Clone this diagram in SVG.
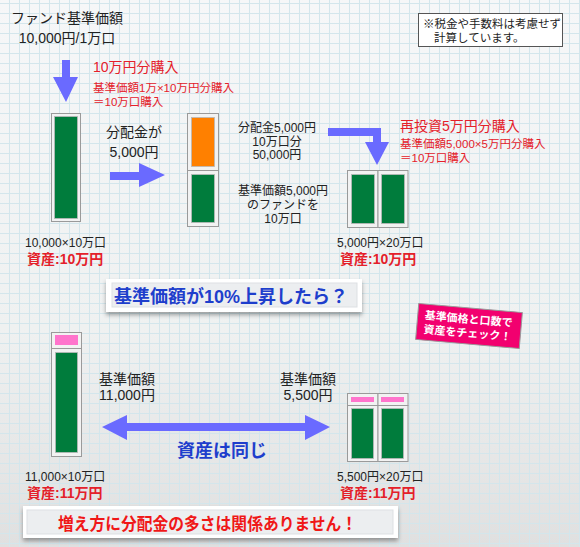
<svg xmlns="http://www.w3.org/2000/svg" width="580" height="547" viewBox="0 0 580 547">
<defs>
  <linearGradient id="bg" x1="0" y1="0" x2="0" y2="1">
    <stop offset="0" stop-color="#f6f7f8"/>
    <stop offset="0.6" stop-color="#eff1f1"/>
    <stop offset="1" stop-color="#e0e0e0"/>
  </linearGradient>
  <pattern id="grid" width="10" height="10" patternUnits="userSpaceOnUse" x="9" y="3">
    <path d="M0 0.5H10M0.5 0V10" stroke="#d3e6ec" stroke-width="1" fill="none"/>
  </pattern>
  <filter id="sh" x="-10%" y="-30%" width="120%" height="170%">
    <feDropShadow dx="0" dy="3" stdDeviation="2" flood-color="#000" flood-opacity="0.35"/>
  </filter>
  <style>
    text{font-family:"Liberation Sans","Noto Sans CJK JP",sans-serif;fill:#222}
    .t14{font-size:14px}
    .t12{font-size:12px}
    .t11{font-size:11.5px}
    .red{fill:#e4202a}
    .rb{fill:#e4202a;font-weight:bold;font-size:14px}
    .c{text-anchor:middle}
    .frame{fill:#f2f2f2;stroke:#9a9a9a;stroke-width:1}
    .g{fill:#007c3c;stroke:#b8b8b8;stroke-width:0.8}
    .o{fill:#ff8000;stroke:#b8b8b8;stroke-width:0.8}
    .p{fill:#ff74cc}
    .arrow{fill:#6a6aff}
    .bluebold{fill:#1e3ecc;font-weight:bold;font-size:18px}
  </style>
</defs>
<rect width="580" height="547" fill="url(#bg)"/>
<rect width="580" height="547" fill="url(#grid)"/>

<g id="title">
  <text class="t14" x="67" y="23" text-anchor="middle">ファンド基準価額</text>
  <text class="t14" x="67" y="43" text-anchor="middle">10,000円/1万口</text>
</g>

<g id="note">
  <rect x="418.5" y="13.5" width="144" height="33" fill="#fff" stroke="#555"/>
  <text class="t11" x="423" y="28">※税金や手数料は考慮せず</text>
  <text class="t11" x="434" y="42">計算しています。</text>
</g>

<g id="buy1">
  <text class="t14 red" x="93" y="72">10万円分購入</text>
  <text class="t11 red" x="93" y="92">基準価額1万×10万円分購入</text>
  <text class="t11 red" x="93" y="106">＝10万口購入</text>
</g>

<g id="bar1">
  <rect class="frame" x="51.5" y="113.5" width="29" height="108"/>
  <rect class="g" x="54.5" y="116.5" width="23" height="102"/>
  <text class="t12" x="25" y="247">10,000×10万口</text>
  <text class="rb" x="27" y="264">資産:10万円</text>
</g>

<g id="dividend-label">
  <text class="t14 c" x="134" y="137">分配金が</text>
  <text class="t14 c" x="134" y="157">5,000円</text>
</g>

<g id="bar2">
  <rect class="frame" x="187.5" y="113.5" width="31" height="57"/>
  <rect class="frame" x="187.5" y="170.5" width="31" height="56"/>
  <rect class="o" x="191.5" y="117.5" width="23" height="49"/>
  <rect class="g" x="191.5" y="174.5" width="23" height="48"/>
</g>

<g id="bar2-labels">
  <text class="t12 c" x="277" y="132">分配金5,000円</text>
  <text class="t12 c" x="277" y="146">10万口分</text>
  <text class="t12 c" x="277" y="159">50,000円</text>
  <text class="t12 c" x="283" y="195">基準価額5,000円</text>
  <text class="t12 c" x="283" y="209">のファンドを</text>
  <text class="t12 c" x="283" y="223">10万口</text>
</g>

<g id="reinvest">
  <text class="t14 red" x="400" y="131">再投資5万円分購入</text>
  <text class="t11 red" x="400" y="148">基準価額5,000×5万円分購入</text>
  <text class="t11 red" x="400" y="162">＝10万口購入</text>
</g>

<g id="bar3">
  <rect class="frame" x="347.5" y="170.5" width="30.5" height="57"/>
  <rect class="frame" x="378" y="170.5" width="30" height="57"/>
  <rect class="g" x="351.5" y="174.5" width="23" height="49"/>
  <rect class="g" x="381.5" y="174.5" width="23" height="49"/>
  <text class="t12" x="337" y="247">5,000円×20万口</text>
  <text class="rb" x="340" y="264">資産:10万円</text>
</g>

<g id="banner1">
  <rect x="106" y="279" width="256" height="33" fill="#fff" filter="url(#sh)"/>
  <rect x="112" y="283" width="245" height="24" fill="#eceef0" stroke="#dde0e3"/>
  <text class="bluebold" x="114" y="303" textLength="234" lengthAdjust="spacingAndGlyphs">基準価額が10%上昇したら？</text>
</g>

<g id="badge" transform="translate(469 326) rotate(5)">
  <rect x="-52" y="-18" width="104" height="36" fill="#f2006f" stroke="#999" stroke-width="1"/>
  <text x="-45" y="-3" style="fill:#fff;font-weight:bold;font-size:11px">基準価格と口数で</text>
  <text x="-45" y="11" style="fill:#fff;font-weight:bold;font-size:11px">資産をチェック！</text>
</g>

<g id="bar4">
  <rect class="frame" x="51.5" y="332.5" width="30" height="16"/>
  <rect class="frame" x="51.5" y="348.5" width="30" height="108"/>
  <rect class="p" x="55" y="335" width="23" height="10"/>
  <rect class="g" x="55.5" y="352.5" width="22" height="100"/>
  <text class="t12" x="25" y="481">11,000×10万口</text>
  <text class="rb" x="27" y="498">資産:11万円</text>
</g>

<g id="price-left">
  <text class="t14 c" x="127" y="384">基準価額</text>
  <text class="t14 c" x="127" y="400">11,000円</text>
</g>
<g id="price-right">
  <text class="t14 c" x="308" y="384">基準価額</text>
  <text class="t14 c" x="308" y="400">5,500円</text>
</g>

<g id="same-label">
  <text class="bluebold c" x="222" y="457">資産は同じ</text>
</g>

<g id="bar5">
  <rect class="frame" x="347.5" y="393.5" width="30.5" height="12"/>
  <rect class="frame" x="378" y="393.5" width="30" height="12"/>
  <rect class="frame" x="347.5" y="405.5" width="30.5" height="56"/>
  <rect class="frame" x="378" y="405.5" width="30" height="56"/>
  <rect class="p" x="351" y="397" width="23" height="5"/>
  <rect class="p" x="381" y="397" width="23" height="5"/>
  <rect class="g" x="351.5" y="408.5" width="22" height="50"/>
  <rect class="g" x="381.5" y="408.5" width="22" height="50"/>
  <text class="t12" x="337" y="481">5,500円×20万口</text>
  <text class="rb" x="340" y="498">資産:11万円</text>
</g>

<g id="banner2">
  <rect x="23" y="506" width="375" height="32" fill="#fff" filter="url(#sh)"/>
  <rect x="27" y="510" width="366" height="24" fill="#eceef0" stroke="#dde0e3"/>
  <text x="58" y="530" textLength="299" lengthAdjust="spacingAndGlyphs" style="fill:#f01818;font-weight:bold;font-size:17px">増え方に分配金の多さは関係ありません！</text>
</g>

<g id="connectors">
  <path class="arrow" d="M62 60H70V77H78L66 102L53 77H62Z"/>
  <path class="arrow" d="M110 172H139V163L165 175L139 187V180H110Z"/>
  <path class="arrow" d="M328 128H381V142H389L377 165L365 142H373V136H328Z"/>
  <path class="arrow" d="M102 427L127 415V423H305V415L330 427L305 440V431H127V440Z"/>
</g>
</svg>
